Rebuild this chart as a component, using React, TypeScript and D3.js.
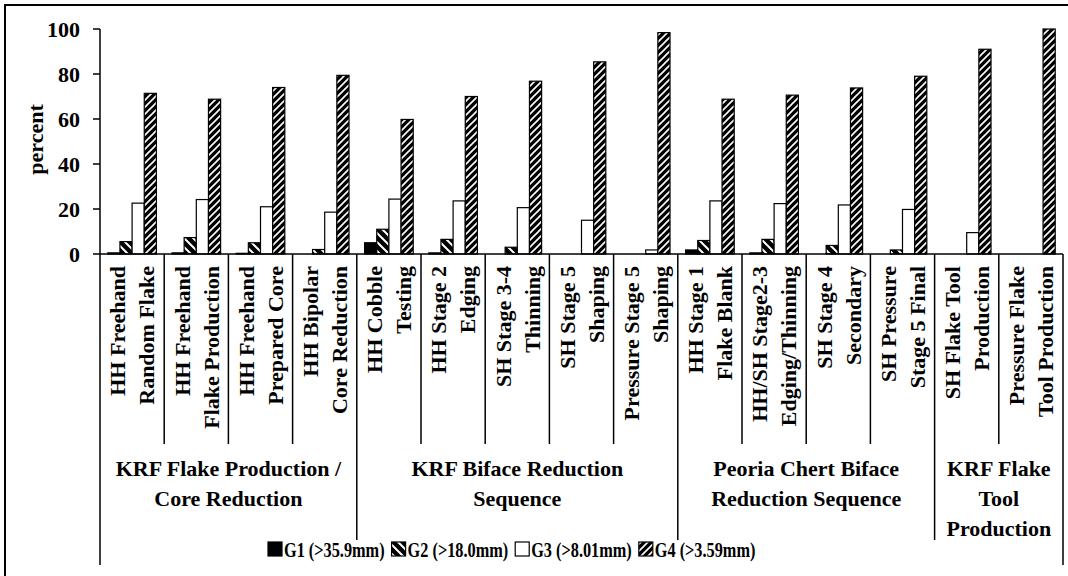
import React from "react";
import * as d3 from "d3";

const categories: [string, string][] = [
  ["HH Freehand", "Random Flake"],
  ["HH Freehand", "Flake Production"],
  ["HH Freehand", "Prepared Core"],
  ["HH Bipolar", "Core Reduction"],
  ["HH Cobble", "Testing"],
  ["HH Stage 2", "Edging"],
  ["SH Stage 3-4", "Thinning"],
  ["SH Stage 5", "Shaping"],
  ["Pressure Stage 5", "Shaping"],
  ["HH Stage 1", "Flake Blank"],
  ["HH/SH Stage2-3", "Edging/Thinning"],
  ["SH Stage 4", "Secondary"],
  ["SH Pressure", "Stage 5 Final"],
  ["SH Flake Tool", "Production"],
  ["Pressure Flake", "Tool Production"],
];

const groups = [
  { lines: ["KRF Flake Production /", "Core Reduction"], start: 0, end: 4 },
  { lines: ["KRF Biface Reduction", "Sequence"], start: 4, end: 9 },
  { lines: ["Peoria Chert Biface", "Reduction Sequence"], start: 9, end: 13 },
  { lines: ["KRF Flake", "Tool", "Production"], start: 13, end: 15 },
];

const seriesNames = ["G1 (>35.9mm)", "G2 (>18.0mm)", "G3 (>8.01mm)", "G4 (>3.59mm)"];

const g1 = [0.5, 0.5, 0.3, 0, 5.0, 0.5, 0, 0, 0, 1.8, 0.5, 0, 0, 0, 0];
const g2 = [5.5, 7.3, 5.0, 2.0, 11.0, 6.5, 3.0, 0, 0, 6.0, 6.5, 3.8, 1.8, 0, 0];
const g3 = [22.6, 24.2, 21.0, 18.6, 24.4, 23.6, 20.6, 15.0, 1.8, 23.6, 22.4, 21.8, 19.8, 9.5, 0];
const g4 = [71.4, 68.8, 74.0, 79.4, 59.8, 70.0, 76.8, 85.4, 98.4, 68.8, 70.6, 73.8, 79.0, 91.0, 100];

const yTicks = [0, 20, 40, 60, 80, 100];

const seriesValues = [g1, g2, g3, g4];
const fills = ["#000", "url(#hatchBack)", "#fff", "url(#hatchFwd)"];

const FONT = "'Liberation Serif', 'Times New Roman', serif";

function measure(text: string, size: number): number {
  if (typeof document === "undefined") return text.length * size * 0.5;
  const c = document.createElement("canvas").getContext("2d");
  if (!c) return text.length * size * 0.5;
  c.font = `bold ${size}px ${FONT}`;
  return c.measureText(text).width;
}

export default function App() {
  React.useEffect(() => {
    document.body.style.margin = "0";
  }, []);

  const W = 1068;
  const H = 576;
  const x0 = 100;
  const x1 = 1063;
  const yTop = 29;
  const yBase = 254;

  const x = d3
    .scaleBand<number>()
    .domain(d3.range(categories.length))
    .range([x0, x1])
    .paddingInner(0)
    .paddingOuter(0);
  const xs = d3
    .scaleBand<number>()
    .domain(d3.range(4))
    .range([0, x.bandwidth()])
    .paddingInner(0)
    .paddingOuter(0.64);
  const y = d3.scaleLinear().domain([0, 100]).range([yBase, yTop]);

  const innerBottom = 444;
  const groupBottom = 540;
  const outerBottom = 565;
  const labelTop = 266;
  const lineGap = 29;

  const groupStarts = new Set(groups.map((g) => g.start).concat([categories.length]));

  // legend layout (condensed text)
  const legendY = 549;
  const legendFont = 22;
  const legendScaleX = 0.74;
  const sw = 14;
  const textGap = 2;
  const itemGap = 7;
  const legendStart = 268;
  let lx = legendStart;
  const legendItems = seriesNames.map((s, i) => {
    const tw = measure(s, legendFont) * legendScaleX;
    const item = { s, i, x: lx };
    lx += sw + textGap + tw + itemGap;
    return item;
  });

  return (
    <svg
      width={W}
      height={H}
      style={{ position: "absolute", left: 0, top: 0, background: "#fff" }}
      fontFamily={FONT}
      fontWeight="bold"
    >
      <defs>
        <pattern id="hatchFwd" patternUnits="userSpaceOnUse" width={7} height={7}>
          <rect width={7} height={7} fill="#000" />
          <path d="M-1,8 L8,-1 M-3,3 L3,-3 M4,10 L10,4" stroke="#fff" strokeWidth={1.6} />
        </pattern>
        <pattern id="hatchBack" patternUnits="userSpaceOnUse" width={9} height={9}>
          <rect width={9} height={9} fill="#000" />
          <path d="M-1,-1 L10,10 M-3,6 L3,12 M6,-3 L12,3" stroke="#fff" strokeWidth={2} />
        </pattern>
      </defs>

      {/* outer frame */}
      <rect x={5} y={5} width={1100} height={600} fill="none" stroke="#000" strokeWidth={2} />

      {/* bars */}
      {categories.map((_, ci) =>
        seriesValues.map((vals, si) => {
          const v = vals[ci];
          if (v <= 0) return null;
          const bx = (x(ci) as number) + (xs(si) as number);
          return (
            <rect
              key={`${ci}-${si}`}
              x={bx}
              y={y(v)}
              width={xs.bandwidth()}
              height={yBase - y(v)}
              fill={fills[si]}
              stroke="#000"
              strokeWidth={1.2}
            />
          );
        })
      )}

      {/* y axis */}
      <line x1={x0} x2={x0} y1={yTop} y2={yBase} stroke="#000" strokeWidth={1.5} />
      {yTicks.map((t) => (
        <g key={t}>
          <line x1={x0 - 7} x2={x0} y1={y(t)} y2={y(t)} stroke="#000" strokeWidth={1.5} />
          <text x={x0 - 20} y={y(t)} dy="0.35em" textAnchor="end" fontSize={22}>
            {t}
          </text>
        </g>
      ))}
      <text
        transform={`translate(35,${(yTop + yBase) / 2 - 2}) rotate(-90)`}
        textAnchor="middle"
        dy="0.35em"
        fontSize={22}
      >
        percent
      </text>

      {/* x axis */}
      <line x1={x0} x2={x1} y1={yBase} y2={yBase} stroke="#000" strokeWidth={1.5} />

      {/* separators */}
      {d3.range(categories.length + 1).map((i) => {
        const xx = i === categories.length ? x1 : (x(i) as number);
        const isGroup = groupStarts.has(i);
        const isOuter = i === 0 || i === categories.length;
        return (
          <line
            key={i}
            x1={xx}
            x2={xx}
            y1={yBase}
            y2={isOuter ? outerBottom : isGroup ? groupBottom : innerBottom}
            stroke="#000"
            strokeWidth={1.5}
          />
        );
      })}

      {/* category labels */}
      {categories.map((lines, ci) => {
        const cx = (x(ci) as number) + x.bandwidth() / 2;
        return lines.map((ln, li) => {
          const lxp = cx + (li === 0 ? -lineGap / 2 : lineGap / 2);
          return (
            <text
              key={`${ci}-${li}`}
              transform={`translate(${lxp},${labelTop}) rotate(-90)`}
              textAnchor="end"
              dy="0.35em"
              fontSize={22}
            >
              {ln}
            </text>
          );
        });
      })}

      {/* group labels */}
      {groups.map((g, gi) => {
        const gx0 = x(g.start) as number;
        const gx1 = g.end === categories.length ? x1 : (x(g.end) as number);
        const cx = (gx0 + gx1) / 2;
        return g.lines.map((ln, li) => (
          <text key={`${gi}-${li}`} x={cx} y={476 + li * 30} textAnchor="middle" fontSize={22}>
            {ln}
          </text>
        ));
      })}

      {/* legend */}
      {legendItems.map(({ s, i, x: ix }) => (
        <g key={s}>
          <rect
            x={ix}
            y={legendY - sw / 2}
            width={sw}
            height={sw}
            fill={fills[i]}
            stroke="#000"
            strokeWidth={1.2}
          />
          <text
            transform={`translate(${ix + sw + textGap},${legendY}) scale(${legendScaleX},1)`}
            dy="0.35em"
            fontSize={legendFont}
          >
            {s}
          </text>
        </g>
      ))}
    </svg>
  );
}
